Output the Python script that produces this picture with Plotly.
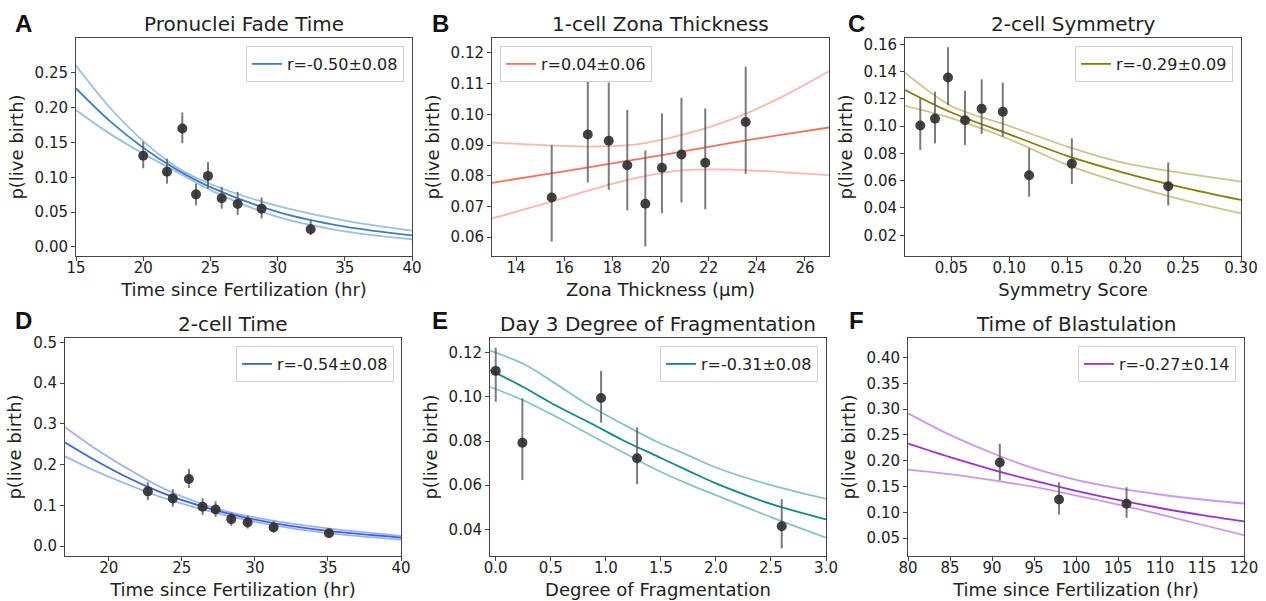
import plotly.graph_objects as go

W, H = 1266, 601

# ---------------- Data ----------------
# A: Pronuclei Fade Time
a_x = [20.0, 21.77, 22.91, 23.93, 24.82, 25.84, 27.03, 28.81, 32.46]
a_y = [0.131, 0.108, 0.170, 0.0755, 0.102, 0.070, 0.0617, 0.055, 0.0253]
a_hi = [0.151, 0.127, 0.193, 0.091, 0.122, 0.0865, 0.079, 0.071, 0.038]
a_lo = [0.113, 0.091, 0.149, 0.060, 0.084, 0.055, 0.046, 0.041, 0.017]
a_fx = [15, 17.5, 20, 22.5, 25, 30, 35, 40]
a_fmid = [0.2275, 0.181, 0.1425, 0.111, 0.0859, 0.0504, 0.0292, 0.0167]
a_fup = [0.2605, 0.2006, 0.152, 0.1145, 0.0904, 0.0588, 0.0379, 0.0234]
a_flo = [0.1965, 0.1627, 0.134, 0.1076, 0.0816, 0.0432, 0.0224, 0.011]

# B: 1-cell Zona Thickness
b_x = [15.48, 16.98, 17.85, 18.62, 19.37, 20.06, 20.87, 21.86, 23.54]
b_y = [0.0729, 0.0934, 0.0914, 0.0834, 0.0709, 0.0826, 0.0869, 0.0842, 0.0975]
b_hi = [0.0900, 0.1117, 0.1103, 0.1014, 0.0882, 0.1003, 0.1054, 0.1019, 0.1155]
b_lo = [0.0586, 0.0778, 0.0754, 0.0687, 0.0570, 0.0678, 0.0713, 0.0691, 0.0806]
b_fx = [13, 15, 17, 19, 21, 23, 25, 27]
b_fmid = [0.0777, 0.0802, 0.0827, 0.0853, 0.0880, 0.0908, 0.0933, 0.0957]
b_fup = [0.0908, 0.0900, 0.0895, 0.0902, 0.0935, 0.0985, 0.1055, 0.1140]
b_flo = [0.0661, 0.0705, 0.0752, 0.0793, 0.0818, 0.0820, 0.0812, 0.0802]

# C: 2-cell Symmetry
c_x = [0.0232, 0.0359, 0.0471, 0.0618, 0.0762, 0.0944, 0.1171, 0.154, 0.2372]
c_y = [0.1004, 0.1055, 0.1356, 0.1043, 0.1128, 0.1106, 0.064, 0.0725, 0.0559]
c_hi = [0.1204, 0.1253, 0.1578, 0.126, 0.1343, 0.1319, 0.0838, 0.0911, 0.0735]
c_lo = [0.0825, 0.0874, 0.1155, 0.0862, 0.0943, 0.0923, 0.0483, 0.0576, 0.0417]
c_fx = [0.01, 0.05, 0.10, 0.15, 0.20, 0.25, 0.30]
c_fmid = [0.1265, 0.1100, 0.0940, 0.0782, 0.0656, 0.0550, 0.0459]
c_fup = [0.1392, 0.1148, 0.1001, 0.0850, 0.0728, 0.0655, 0.0593]
c_flo = [0.1148, 0.1058, 0.0904, 0.0716, 0.0576, 0.0459, 0.0361]

# D: 2-cell Time
d_x = [22.67, 24.38, 25.48, 26.42, 27.31, 28.38, 29.5, 31.28, 35.07]
d_y = [0.1346, 0.1174, 0.165, 0.0969, 0.0903, 0.0665, 0.0583, 0.046, 0.032]
d_hi = [0.157, 0.140, 0.190, 0.118, 0.110, 0.083, 0.075, 0.0624, 0.0419]
d_lo = [0.113, 0.097, 0.143, 0.077, 0.072, 0.050, 0.0435, 0.0337, 0.023]
d_fx = [17, 18.93, 21.21, 23.49, 25.77, 28.06, 31, 35, 40]
d_fmid = [0.2545, 0.2135, 0.170, 0.1335, 0.1045, 0.0812, 0.0584, 0.0375, 0.0213]
d_fup = [0.292, 0.243, 0.192, 0.146, 0.1116, 0.0853, 0.0641, 0.0437, 0.0255]
d_flo = [0.2207, 0.187, 0.1527, 0.1214, 0.0968, 0.0754, 0.0532, 0.0321, 0.0164]

# E: Day 3 Degree of Fragmentation
e_x = [0.0, 0.242, 0.957, 1.284, 2.598]
e_y = [0.1118, 0.0792, 0.0995, 0.0722, 0.0414]
e_hi = [0.1223, 0.0993, 0.1118, 0.0862, 0.0537]
e_lo = [0.0978, 0.0623, 0.0883, 0.0605, 0.0314]
e_fx = [-0.05, 0.25, 0.55, 0.85, 1.15, 1.45, 1.75, 2.0, 2.5, 3.0]
e_fmid = [0.1122, 0.1045, 0.0960, 0.0884, 0.0805, 0.0735, 0.0665, 0.0608, 0.0515, 0.0445]
e_fup = [0.1210, 0.1150, 0.1058, 0.0961, 0.0878, 0.0800, 0.0735, 0.0680, 0.0600, 0.0538]
e_flo = [0.1045, 0.0985, 0.0910, 0.0830, 0.0750, 0.0672, 0.0605, 0.0555, 0.0455, 0.0362]

# F: Time of Blastulation
f_x = [90.93, 97.98, 106.02]
f_y = [0.1964, 0.1248, 0.1164]
f_hi = [0.233, 0.158, 0.1487]
f_lo = [0.162, 0.0958, 0.0893]
f_fx = [80, 85, 90, 95, 100, 105, 110, 115, 120]
f_fmid = [0.2331, 0.2069, 0.1829, 0.1612, 0.1416, 0.1240, 0.1083, 0.0945, 0.0822]
f_fup = [0.2918, 0.2500, 0.2150, 0.1850, 0.1630, 0.1470, 0.1345, 0.1248, 0.1170]
f_flo = [0.1828, 0.1738, 0.1622, 0.1493, 0.1325, 0.1150, 0.0958, 0.0758, 0.0558]

titles = ["Pronuclei Fade Time", "1-cell Zona Thickness", "2-cell Symmetry",
          "2-cell Time", "Day 3 Degree of Fragmentation", "Time of Blastulation"]
letters = ["A", "B", "C", "D", "E", "F"]
xlabels = ["Time since Fertilization (hr)", "Zona Thickness (µm)", "Symmetry Score",
           "Time since Fertilization (hr)", "Degree of Fragmentation", "Time since Fertilization (hr)"]
rlabels = ["r=-0.50±0.08", "r=0.04±0.06", "r=-0.29±0.09",
           "r=-0.54±0.08", "r=-0.31±0.08", "r=-0.27±0.14"]

# ---------------- Styles / layout ----------------
colors = ["#3f7fc0", "#f7705f", "#858000", "#3b63e0", "#0d8a8a", "#9a2fe0"]
band_colors = ["rgba(63,127,192,0.5)", "rgba(247,112,95,0.5)", "rgba(133,128,0,0.45)",
               "rgba(59,99,224,0.5)", "rgba(13,138,138,0.5)", "rgba(154,47,224,0.5)"]

# plot-area pixel boxes (left, right, top, bottom)
boxes = [(76, 412, 38, 256), (492, 829, 38, 256), (905, 1241, 38, 256),
         (65, 401, 338, 556), (490, 826, 338, 556), (908, 1244, 338, 556)]
xranges = [[15, 40], [13, 27], [0.01, 0.30], [17, 40], [-0.052, 3.0], [80, 120]]
yranges = [[-0.013, 0.30], [0.0539, 0.1248], [0.0048, 0.1646],
           [-0.024, 0.511], [0.0279, 0.1267], [0.0152, 0.438]]
xticks = [[15, 20, 25, 30, 35, 40], [14, 16, 18, 20, 22, 24, 26],
          [0.05, 0.10, 0.15, 0.20, 0.25, 0.30], [20, 25, 30, 35, 40],
          [0.0, 0.5, 1.0, 1.5, 2.0, 2.5, 3.0], [80, 85, 90, 95, 100, 105, 110, 115, 120]]
xfmt = ["d", "d", ".2f", "d", ".1f", "d"]
yticks = [[0.0, 0.05, 0.10, 0.15, 0.20, 0.25],
          [0.06, 0.07, 0.08, 0.09, 0.10, 0.11, 0.12],
          [0.02, 0.04, 0.06, 0.08, 0.10, 0.12, 0.14, 0.16],
          [0.0, 0.1, 0.2, 0.3, 0.4, 0.5],
          [0.04, 0.06, 0.08, 0.10, 0.12],
          [0.05, 0.10, 0.15, 0.20, 0.25, 0.30, 0.35, 0.40]]
yfmt = [".2f", ".2f", ".2f", ".1f", ".2f", ".2f"]
legend_side = ["right", "left", "right", "right", "right", "right"]
legend_px = [404, 500, 1233, 394, 818, 1236]

panels = [
    (a_x, a_y, a_hi, a_lo, a_fx, a_fmid, a_fup, a_flo),
    (b_x, b_y, b_hi, b_lo, b_fx, b_fmid, b_fup, b_flo),
    (c_x, c_y, c_hi, c_lo, c_fx, c_fmid, c_fup, c_flo),
    (d_x, d_y, d_hi, d_lo, d_fx, d_fmid, d_fup, d_flo),
    (e_x, e_y, e_hi, e_lo, e_fx, e_fmid, e_fup, e_flo),
    (f_x, f_y, f_hi, f_lo, f_fx, f_fmid, f_fup, f_flo),
]

FONT = "DejaVu Sans"
fig = go.Figure()
layout = dict(width=W, height=H, margin=dict(l=0, r=0, t=0, b=0, autoexpand=False),
              paper_bgcolor="white", plot_bgcolor="white",
              font=dict(family=FONT, color="#222"), showlegend=True)
annotations = []

for i, (px, py, phi, plo, fx, fmid, fup, flo) in enumerate(panels):
    n = i + 1
    xa = "x" if n == 1 else f"x{n}"
    ya = "y" if n == 1 else f"y{n}"
    lg = "legend" if n == 1 else f"legend{n}"
    for band in (fup, flo):
        fig.add_trace(go.Scatter(x=fx, y=band, mode="lines", xaxis=xa, yaxis=ya,
                                 line=dict(color=band_colors[i], width=1.8, shape="spline", smoothing=0.9),
                                 showlegend=False, hoverinfo="skip"))
    fig.add_trace(go.Scatter(x=fx, y=fmid, mode="lines", xaxis=xa, yaxis=ya,
                             line=dict(color=colors[i], width=1.8, shape="spline", smoothing=0.9),
                             name=rlabels[i], legend=lg, showlegend=True))
    fig.add_trace(go.Scatter(
        x=px, y=py, mode="markers", xaxis=xa, yaxis=ya, showlegend=False,
        marker=dict(size=10, color="rgba(45,45,45,0.9)"),
        error_y=dict(type="data", symmetric=False,
                     array=[h - v for h, v in zip(phi, py)],
                     arrayminus=[v - l for v, l in zip(py, plo)],
                     color="rgba(90,90,90,0.8)", thickness=2, width=0)))

    l, r, t, b = boxes[i]
    xd = [l / W, r / W]
    yd = [1 - b / H, 1 - t / H]
    axstyle = dict(showline=True, mirror=True, linecolor="#444", linewidth=1,
                   ticks="outside", ticklen=4, tickcolor="#444", showgrid=False,
                   zeroline=False, automargin=False,
                   tickfont=dict(family=FONT, size=15, color="#222"))
    layout["xaxis" if n == 1 else f"xaxis{n}"] = dict(
        domain=xd, anchor=ya, range=xranges[i], tickvals=xticks[i], tickformat=xfmt[i],
        ticklabelstandoff=-6,
        title=dict(text=xlabels[i], font=dict(family=FONT, size=18, color="#222"), standoff=7),
        **axstyle)
    layout["yaxis" if n == 1 else f"yaxis{n}"] = dict(
        domain=yd, anchor=xa, range=yranges[i], tickvals=yticks[i], tickformat=yfmt[i],
        title=dict(text="p(live birth)", font=dict(family=FONT, size=18, color="#222"), standoff=6),
        **axstyle)
    side = legend_side[i]
    layout[lg] = dict(x=legend_px[i] / W, y=1 - (t + 8) / H,
                      xanchor=side, yanchor="top", xref="paper", yref="paper",
                      bgcolor="white", bordercolor="#d0d0d0", borderwidth=1,
                      font=dict(family=FONT, size=16, color="#222"))
    annotations.append(dict(text=titles[i], x=(l + r) / 2 / W, y=1 - (t - 14) / H,
                            xref="paper", yref="paper", showarrow=False,
                            xanchor="center", yanchor="middle",
                            font=dict(family=FONT, size=20, color="#222")))
    lx = [13, 430, 846, 13, 430, 847][i]
    ly = [24, 24, 24, 320, 320, 320][i]
    annotations.append(dict(text=f"<b>{letters[i]}</b>", x=lx / W, y=1 - ly / H,
                            xref="paper", yref="paper", showarrow=False,
                            xanchor="left", yanchor="middle",
                            font=dict(family="Liberation Sans", size=24, color="#111")))

layout["annotations"] = annotations
fig.update_layout(**layout)
fig.write_html("out.html", config={"displayModeBar": False},
               post_script="document.body.style.margin='0';document.body.style.overflow='hidden';")
